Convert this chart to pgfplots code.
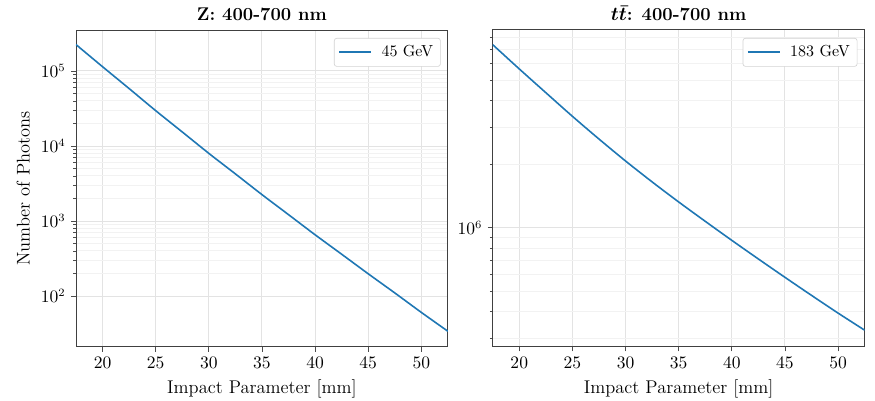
\documentclass[border=0pt]{standalone}
\usepackage{pgfplots}
\pgfplotsset{compat=1.18}
\definecolor{tabblue}{RGB}{31,119,180}
\pgfplotsset{
  myax/.style={
    scale only axis, width=232.5pt, height=198pt,
    xmin=17.5, xmax=52.5,
    xtick={20,25,30,35,40,45,50},
    tick pos=left, tick align=outside,
    major tick length=3pt, minor tick length=1.8pt,
    every tick/.style={black!70},
    axis line style={black!75, line width=0.6pt},
    xmajorgrids, ymajorgrids, yminorgrids,
    major grid style={gray!22, line width=0.6pt},
    minor grid style={gray!10, line width=0.5pt},
    tick label style={font=\fontsize{10.5}{12}\selectfont},
    label style={font=\fontsize{11.5}{13}\selectfont},
    title style={font=\fontsize{11.5}{13}\selectfont\bfseries\boldmath, yshift=-4pt},
    xlabel={Impact Parameter [mm]},
    legend style={at={(1,1)}, xshift=-4.5pt, yshift=-5pt, anchor=north east, draw=gray!35, rounded corners=1.5pt,
      font=\fontsize{10}{11}\selectfont, inner sep=2.5pt, column sep=4pt},
    legend cell align=left,
  }
}
\begin{document}
\begin{tikzpicture}
\begin{axis}[myax, ymode=log, at={(0pt,0pt)},
  legend image code/.code={\draw[tabblue, line width=1.1pt] (0cm,0cm) -- (0.7cm,0cm);},
  ymin=21.1, ymax=3.52e5,
  ytick={1e2,1e3,1e4,1e5},
  ylabel={Number of Photons},
  title={Z: 400-700 nm}]
\addplot[tabblue, line width=1pt, smooth] coordinates {
(17.5,2.25e5) (20,1.14e5) (22.5,5.83e4) (25,2.96e4) (27.5,1.54e4) (30,7.98e3)
(32.5,4.25e3) (35,2.25e3) (37.5,1.216e3) (40,656) (42.5,361) (45,198)
(47.5,110) (50,60.5) (52.5,33.9)};
\addlegendentry{45 GeV}
\end{axis}
\begin{axis}[myax, ymode=log, at={(260.5pt,0pt)},
  legend image code/.code={\draw[tabblue, line width=1.1pt] (0cm,0cm) -- (0.7cm,0cm);},
  ymin=2.73e5, ymax=8.64e6,
  ytick={1e6},
  minor ytick={3e5,4e5,5e5,6e5,7e5,8e5,9e5,2e6,3e6,4e6,5e6,6e6,7e6,8e6},
  title={$t\bar{t}$: 400-700 nm}]
\addplot[tabblue, line width=1pt, smooth] coordinates {
(17.5,7.36e6) (20,5.65e6) (22.5,4.36e6) (25,3.37e6) (27.5,2.63e6) (30,2.07e6)
(32.5,1.648e6) (35,1.324e6) (37.5,1.072e6) (40,8.71e5) (42.5,7.11e5) (45,5.82e5)
(47.5,4.78e5) (50,3.94e5) (52.5,3.27e5)};
\addlegendentry{183 GeV}
\end{axis}
\pgfresetboundingbox
\path (-47.5pt,-33.75pt) rectangle (499.5pt,216.75pt);
\end{tikzpicture}
\end{document}
